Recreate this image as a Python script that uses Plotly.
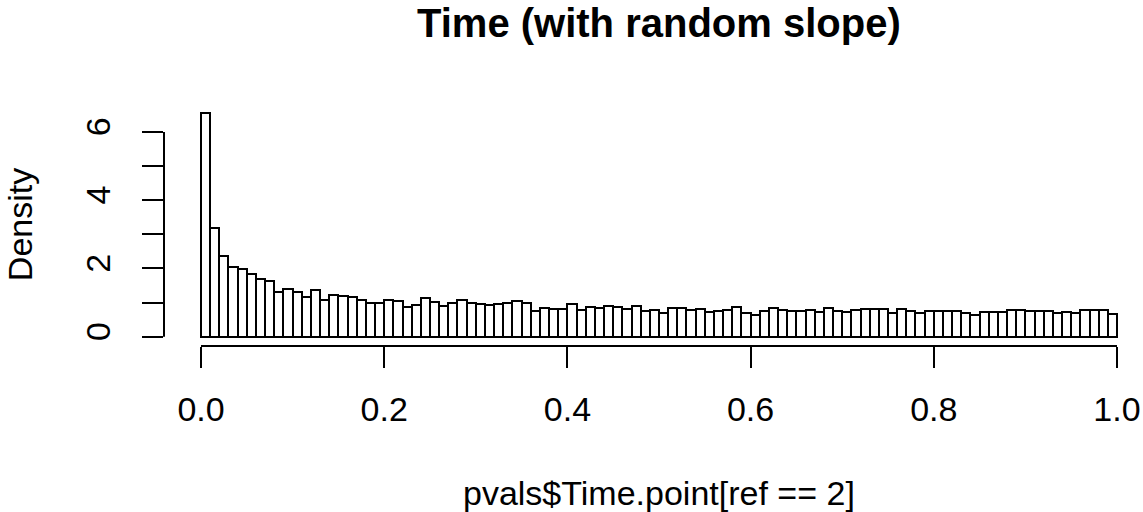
import numpy as np
import plotly.graph_objects as go

# ---- data (100 bins of width 0.01 on [0, 1]) ----
bin_edges = np.linspace(0.0, 1.0, 101)
density = [
    6.55, 3.20, 2.37, 2.05, 1.99, 1.85, 1.70, 1.63, 1.30, 1.40,
    1.31, 1.15, 1.36, 1.07, 1.23, 1.20, 1.16, 1.08, 1.00, 0.99,
    1.08, 1.06, 0.88, 0.93, 1.13, 1.03, 0.90, 1.00, 1.08, 1.00,
    0.96, 0.92, 0.96, 1.00, 1.04, 1.00, 0.75, 0.85, 0.81, 0.80,
    0.95, 0.78, 0.86, 0.83, 0.91, 0.88, 0.80, 0.91, 0.76, 0.79,
    0.69, 0.83, 0.84, 0.78, 0.82, 0.72, 0.74, 0.78, 0.86, 0.69,
    0.64, 0.74, 0.83, 0.78, 0.74, 0.74, 0.77, 0.72, 0.85, 0.74,
    0.73, 0.78, 0.80, 0.81, 0.80, 0.69, 0.81, 0.74, 0.70, 0.76,
    0.75, 0.75, 0.75, 0.70, 0.64, 0.73, 0.73, 0.72, 0.79, 0.77,
    0.76, 0.76, 0.74, 0.69, 0.73, 0.70, 0.78, 0.77, 0.79, 0.66,
]
x_tick_vals = [0.0, 0.2, 0.4, 0.6, 0.8, 1.0]
x_tick_text = ["0.0", "0.2", "0.4", "0.6", "0.8", "1.0"]
y_tick_vals = [0, 1, 2, 3, 4, 5, 6]
y_tick_text = ["0", "", "2", "", "4", "", "6"]
title_text = "<b>Time (with random slope)</b>"
x_label = "pvals$Time.point[ref == 2]"
y_label = "Density"

centers = (bin_edges[:-1] + bin_edges[1:]) / 2
widths = np.diff(bin_edges)

FONT = "Liberation Sans, Arial, sans-serif"
AX_FS = 34
LW = 2

fig = go.Figure()
fig.add_trace(go.Bar(
    x=centers, y=density, width=widths,
    marker=dict(color="white", line=dict(color="black", width=LW)),
    showlegend=False, hoverinfo="skip",
))

fig.update_layout(
    width=1143, height=512,
    margin=dict(l=164, r=0, t=104, b=166),
    paper_bgcolor="white", plot_bgcolor="white",
    font=dict(family=FONT, color="black", size=AX_FS),
    bargap=0,
    xaxis=dict(
        range=[-0.0404, 1.0284], showgrid=False, zeroline=False, showline=False,
        tickmode="array", tickvals=x_tick_vals, ticktext=x_tick_text,
        ticks="outside", ticklen=21, tickwidth=LW, tickcolor="black",
        tickfont=dict(size=AX_FS, family=FONT, color="black"),
        ticklabelstandoff=12,
    ),
    yaxis=dict(
        range=[-0.2726, 6.82], showgrid=False, zeroline=False, showline=False,
        tickmode="array", tickvals=y_tick_vals, ticktext=y_tick_text,
        ticks="outside", ticklen=21, tickwidth=LW, tickcolor="black",
        tickangle=-90,
        tickfont=dict(size=AX_FS, family=FONT, color="black"),
        ticklabelstandoff=18,
    ),
    shapes=[
        dict(type="line", xref="x", yref="paper", x0=0, x1=1, y0=0, y1=0,
             line=dict(color="black", width=LW)),
        dict(type="line", xref="paper", yref="y", x0=0, x1=0, y0=0, y1=6,
             line=dict(color="black", width=LW)),
    ],
    annotations=[
        dict(text=title_text, xref="x", yref="paper", x=0.5, y=1,
             yshift=81, xanchor="center", yanchor="middle", showarrow=False,
             font=dict(size=40, family=FONT, color="black")),
        dict(text=x_label, xref="x", yref="paper", x=0.5, y=0,
             yshift=-(493 - 346), xanchor="center", yanchor="middle", showarrow=False,
             font=dict(size=AX_FS, family=FONT, color="black")),
        dict(text=y_label, xref="paper", yref="y", x=0, y=3.27,
             xshift=-144, xanchor="center", yanchor="middle", textangle=-90,
             showarrow=False, font=dict(size=AX_FS, family=FONT, color="black")),
    ],
)

fig.write_html("out.html")
